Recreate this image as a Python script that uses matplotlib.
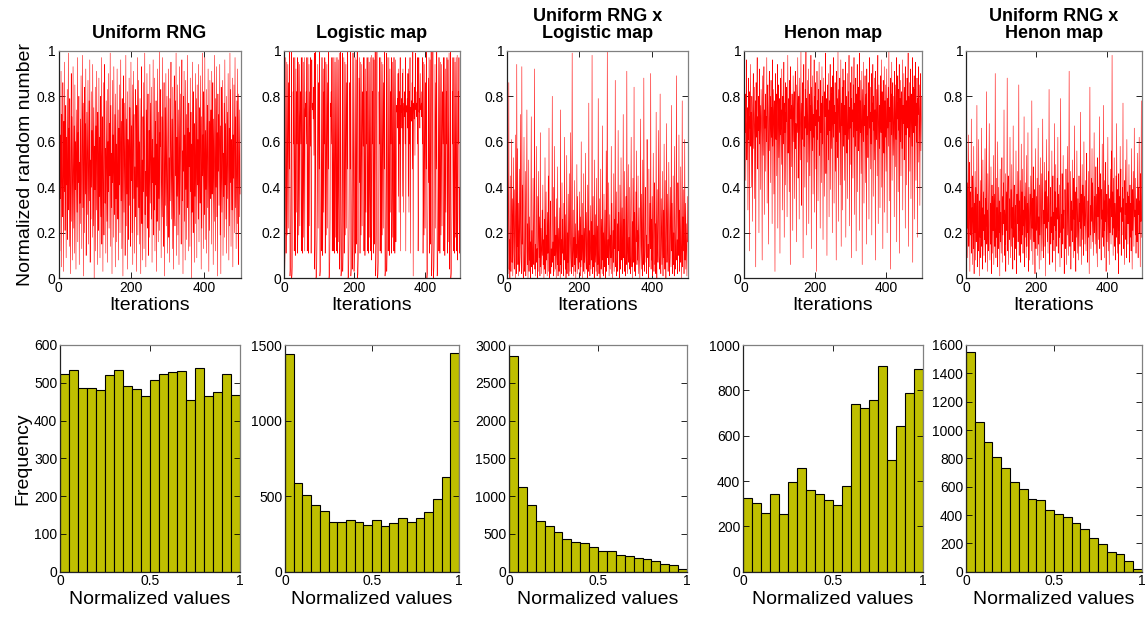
import matplotlib

matplotlib.use("Agg")
import matplotlib.pyplot as plt
import numpy as np

plt.rcParams["font.family"] = ["Liberation Sans", "DejaVu Sans"]

TITLES = ["Uniform RNG", "Logistic map", "Uniform RNG x\nLogistic map",
          "Henon map", "Uniform RNG x\nHenon map"]

# --- first 500 iterations, values in percent ---------
UNIFORM = [
    81, 19, 47, 88, 12, 63, 35, 91, 5, 72, 44, 27, 86, 58, 3, 69, 38, 95, 21, 54,
    76, 9, 62, 41, 83, 17, 50, 99, 30, 66, 14, 79, 46, 2, 57, 90, 25, 71, 36, 8,
    93, 48, 22, 67, 11, 85, 39, 60, 4, 74, 53, 29, 97, 16, 64, 42, 80, 6, 51, 33,
    70, 24, 89, 45, 13, 59, 98, 31, 77, 1, 56, 84, 20, 68, 37, 92, 10, 49, 73, 28,
    61, 87, 15, 43, 78, 34, 96, 7, 52, 26, 82, 40, 65, 18, 94, 55, 23, 75, 0, 58,
    39, 84, 12, 67, 30, 91, 47, 6, 73, 54, 21, 88, 36, 62, 9, 80, 44, 27, 97, 15,
    52, 71, 3, 86, 40, 19, 65, 94, 33, 57, 11, 78, 49, 25, 83, 7, 60, 38, 90, 22,
    68, 45, 99, 14, 76, 31, 55, 2, 87, 42, 63, 18, 93, 50, 28, 72, 5, 81, 35, 59,
    16, 92, 48, 26, 74, 8, 66, 41, 85, 20, 57, 96, 34, 69, 13, 79, 46, 1, 62, 89,
    29, 53, 77, 10, 44, 98, 23, 70, 37, 82, 4, 61, 50, 17, 88, 32, 75, 56, 14, 95,
    43, 67, 20, 85, 6, 58, 91, 35, 72, 11, 49, 27, 83, 64, 3, 76, 40, 97, 19, 54,
    87, 31, 60, 15, 79, 45, 2, 68, 93, 24, 52, 8, 71, 38, 86, 13, 62, 99, 28, 47,
    5, 74, 36, 90, 22, 57, 81, 10, 46, 65, 18, 94, 33, 77, 50, 26, 84, 7, 61, 42,
    96, 19, 53, 30, 88, 12, 69, 41, 78, 3, 59, 25, 92, 48, 16, 73, 35, 100, 21, 64,
    58, 83, 9, 44, 71, 27, 97, 37, 14, 62, 86, 1, 50, 75, 32, 90, 23, 55, 80, 11,
    40, 66, 92, 18, 53, 7, 79, 34, 60, 95, 26, 47, 70, 13, 84, 39, 4, 67, 89, 30,
    23, 78, 45, 99, 10, 62, 36, 85, 19, 51, 74, 6, 93, 28, 57, 81, 42, 15, 69, 96,
    34, 56, 2, 80, 47, 91, 25, 63, 8, 87, 39, 72, 17, 54, 98, 31, 66, 12, 77, 49,
    64, 14, 88, 38, 73, 0, 59, 29, 95, 43, 20, 82, 51, 7, 68, 36, 90, 24, 55, 79,
    9, 85, 41, 61, 26, 94, 16, 75, 48, 33, 89, 57, 4, 71, 22, 99, 45, 63, 13, 82,
    50, 28, 97, 17, 65, 39, 83, 11, 56, 76, 31, 92, 46, 3, 69, 21, 87, 35, 60, 74,
    15, 91, 37, 53, 86, 6, 70, 44, 25, 98, 58, 12, 79, 40, 93, 27, 64, 1, 81, 47,
    72, 32, 59, 94, 19, 67, 2, 84, 45, 29, 62, 87, 10, 55, 36, 77, 18, 96, 41, 68,
    26, 80, 11, 49, 73, 35, 90, 57, 8, 66, 23, 99, 42, 83, 14, 61, 52, 30, 88, 5,
    63, 44, 85, 20, 58, 97, 31, 71, 13, 46, 78, 24, 92, 39, 6, 81, 55, 27, 74, 37,
]

LOGISTIC = [
    47, 99, 3, 12, 42, 97, 11, 39, 95, 19, 62, 94, 22, 69, 86, 48, 100, 1, 4, 15,
    51, 100, 0, 2, 8, 29, 82, 59, 97, 12, 42, 97, 10, 36, 92, 29, 82, 59, 97, 11,
    39, 95, 19, 62, 94, 23, 71, 82, 59, 97, 12, 42, 97, 11, 39, 95, 18, 59, 97, 12,
    74, 77, 71, 82, 59, 97, 12, 42, 97, 11, 38, 94, 23, 71, 82, 58, 97, 11, 40, 96,
    75, 74, 77, 70, 84, 54, 99, 4, 15, 51, 100, 0, 1, 5, 19, 62, 94, 22, 69, 86,
    48, 100, 1, 3, 12, 42, 97, 12, 42, 97, 10, 36, 92, 29, 82, 59, 97, 11, 39, 95,
    19, 62, 94, 22, 69, 86, 48, 100, 0, 2, 7, 26, 77, 71, 82, 59, 97, 12, 42, 97,
    12, 42, 97, 11, 39, 95, 18, 59, 97, 12, 42, 97, 11, 40, 96, 16, 54, 99, 4, 15,
    51, 100, 1, 3, 13, 45, 99, 3, 12, 42, 97, 11, 39, 95, 19, 62, 94, 22, 69, 86,
    48, 100, 0, 1, 6, 22, 69, 86, 48, 100, 1, 4, 16, 54, 99, 4, 16, 54, 99, 3,
    12, 42, 97, 11, 40, 96, 15, 51, 100, 0, 2, 9, 33, 88, 42, 97, 11, 39, 95, 19,
    62, 94, 23, 71, 82, 58, 97, 12, 42, 97, 10, 36, 92, 29, 82, 59, 97, 12, 42, 97,
    11, 39, 95, 18, 59, 97, 12, 43, 98, 8, 29, 82, 59, 97, 11, 40, 96, 15, 51, 100,
    1, 4, 15, 51, 100, 0, 0, 2, 8, 29, 82, 59, 97, 12, 42, 97, 11, 39, 95, 19,
    62, 94, 22, 69, 86, 48, 100, 1, 3, 13, 45, 99, 3, 12, 42, 97, 12, 42, 97, 10,
    36, 92, 29, 82, 59, 97, 11, 39, 95, 18, 59, 97, 12, 42, 97, 11, 40, 96, 16, 54,
    76, 73, 79, 66, 90, 36, 92, 29, 82, 59, 97, 12, 76, 73, 79, 66, 90, 36, 92, 29,
    74, 77, 71, 82, 59, 97, 12, 74, 76, 73, 79, 66, 90, 36, 92, 29, 82, 59, 97, 11,
    75, 74, 78, 69, 86, 48, 100, 1, 74, 77, 70, 84, 54, 99, 75, 74, 77, 71, 82, 59,
    97, 12, 42, 97, 73, 79, 66, 90, 75, 74, 77, 71, 82, 59, 97, 11, 39, 95, 19, 62,
    94, 22, 69, 86, 48, 100, 0, 2, 9, 33, 88, 42, 97, 11, 40, 96, 15, 51, 100, 1,
    4, 15, 51, 100, 0, 1, 5, 19, 62, 94, 22, 69, 86, 48, 100, 1, 3, 12, 42, 97,
    12, 42, 97, 11, 39, 95, 19, 62, 94, 23, 71, 82, 59, 97, 12, 42, 97, 10, 36, 92,
    29, 82, 59, 97, 11, 40, 96, 16, 54, 99, 4, 15, 51, 100, 0, 2, 8, 29, 82, 59,
    97, 12, 42, 97, 11, 39, 95, 18, 59, 97, 12, 43, 98, 8, 29, 82, 59, 97, 11, 40,
]

UNIFORM_X_LOGISTIC = [
    70, 9, 48, 2, 31, 86, 4, 17, 0, 45, 12, 3, 28, 61, 7, 35, 1, 22, 53, 11,
    4, 39, 18, 0, 63, 26, 2, 94, 14, 57, 6, 33, 1, 20, 48, 3, 11, 72, 25, 8,
    2, 93, 15, 41, 5, 0, 29, 62, 9, 3, 18, 47, 1, 12, 36, 74, 6, 24, 0, 13,
    52, 3, 27, 8, 16, 0, 39, 71, 5, 21, 2, 11, 44, 19, 6, 33, 92, 4, 15, 1,
    25, 58, 7, 13, 0, 36, 3, 47, 18, 9, 27, 1, 64, 5, 22, 12, 2, 30, 10, 41,
    6, 17, 0, 26, 4, 53, 14, 2, 38, 8, 19, 1, 29, 11, 45, 3, 66, 9, 0, 21,
    34, 2, 13, 5, 24, 80, 7, 16, 1, 40, 3, 58, 10, 27, 4, 19, 0, 35, 12, 6,
    49, 1, 22, 9, 3, 31, 14, 0, 74, 6, 17, 2, 42, 11, 26, 5, 1, 33, 8, 62,
    15, 4, 28, 0, 10, 54, 2, 20, 7, 37, 13, 1, 46, 23, 3, 16, 64, 9, 2, 25,
    99, 5, 12, 30, 1, 18, 6, 43, 3, 24, 0, 15, 9, 50, 2, 36, 11, 4, 21, 7,
    38, 14, 1, 27, 5, 60, 8, 19, 0, 33, 12, 3, 46, 7, 22, 2, 17, 55, 10, 4,
    29, 9, 0, 41, 15, 3, 77, 6, 21, 1, 11, 32, 4, 25, 8, 98, 2, 14, 36, 5,
    19, 0, 52, 7, 13, 28, 3, 44, 10, 1, 23, 6, 79, 16, 2, 35, 9, 0, 18, 48,
    4, 26, 12, 2, 67, 8, 20, 1, 37, 14, 5, 30, 0, 11, 56, 3, 24, 100, 9, 17,
    6, 42, 1, 15, 28, 4, 19, 9, 58, 2, 33, 12, 0, 21, 7, 46, 3, 26, 13, 87,
    5, 18, 38, 1, 10, 24, 3, 65, 12, 29, 6, 0, 41, 16, 4, 53, 20, 8, 31, 2,
    14, 72, 9, 26, 3, 47, 11, 1, 22, 36, 6, 91, 15, 2, 28, 50, 7, 18, 4, 40,
    10, 2, 33, 62, 13, 5, 25, 0, 44, 19, 7, 84, 3, 29, 12, 1, 38, 16, 56, 6,
    21, 8, 45, 2, 17, 31, 9, 0, 14, 70, 26, 4, 37, 11, 1, 52, 18, 6, 88, 23,
    3, 12, 40, 27, 7, 19, 2, 61, 30, 9, 15, 0, 48, 22, 5, 33, 13, 90, 4, 26,
    8, 36, 1, 18, 55, 11, 3, 29, 42, 6, 24, 2, 73, 14, 0, 39, 17, 7, 31, 65,
    10, 4, 27, 81, 13, 2, 35, 20, 6, 47, 16, 1, 30, 9, 59, 22, 4, 43, 12, 0,
    25, 68, 7, 18, 37, 3, 14, 51, 28, 1, 9, 40, 21, 5, 76, 12, 33, 2, 16, 45,
    6, 20, 1, 58, 26, 11, 4, 34, 89, 8, 17, 2, 42, 23, 10, 63, 3, 30, 13, 7,
    49, 15, 0, 21, 78, 5, 27, 12, 39, 2, 18, 61, 8, 33, 4, 24, 14, 1, 36, 16,
]

HENON = [
    95, 19, 72, 64, 81, 43, 77, 96, 52, 68, 75, 30, 88, 61, 71, 12, 82, 66, 94, 58,
    73, 40, 80, 69, 25, 76, 90, 57, 70, 84, 35, 67, 78, 5, 86, 62, 74, 97, 48, 71,
    65, 80, 20, 92, 59, 76, 68, 39, 83, 72, 63, 8, 89, 70, 54, 79, 93, 28, 74, 66,
    81, 47, 71, 60, 97, 33, 77, 85, 64, 15, 73, 91, 56, 69, 80, 42, 87, 62, 75, 24,
    96, 58, 70, 83, 37, 78, 66, 3, 90, 72, 61, 81, 45, 76, 94, 22, 68, 85, 53, 72,
    79, 11, 88, 63, 74, 50, 92, 67, 30, 80, 71, 59, 95, 18, 77, 64, 86, 41, 73, 69,
    84, 27, 66, 98, 55, 72, 79, 38, 87, 62, 6, 93, 70, 76, 49, 81, 65, 21, 89, 74,
    60, 82, 35, 75, 91, 57, 68, 16, 85, 73, 64, 97, 44, 71, 80, 26, 88, 67, 52, 78,
    100, 32, 69, 77, 61, 86, 9, 74, 94, 58, 71, 40, 83, 66, 100, 19, 79, 63, 87, 51,
    73, 92, 24, 68, 81, 45, 76, 65, 98, 13, 84, 70, 56, 89, 37, 72, 62, 96, 29, 80,
    67, 86, 48, 74, 3, 91, 61, 78, 34, 83, 69, 95, 54, 71, 22, 87, 64, 77, 42, 93,
    59, 80, 17, 75, 88, 66, 36, 82, 71, 99, 46, 68, 79, 10, 85, 63, 74, 52, 90, 27,
    78, 65, 94, 39, 72, 84, 57, 81, 20, 89, 70, 62, 97, 33, 76, 68, 86, 47, 73, 8,
    91, 60, 79, 53, 100, 25, 74, 83, 64, 88, 41, 71, 96, 14, 77, 67, 84, 30, 92, 58,
    70, 87, 43, 76, 63, 95, 18, 80, 72, 55, 90, 35, 68, 82, 61, 98, 23, 75, 66, 86,
    50, 79, 9, 93, 69, 74, 44, 85, 62, 97, 28, 77, 71, 58, 88, 12, 81, 65, 94, 38,
    73, 84, 56, 68, 99, 21, 78, 64, 87, 46, 72, 91, 6, 83, 70, 60, 95, 33, 76, 67,
    89, 42, 75, 81, 15, 92, 63, 71, 53, 86, 78, 26, 97, 66, 73, 48, 84, 59, 90, 19,
    77, 69, 94, 36, 80, 65, 88, 52, 74, 8, 91, 72, 61, 83, 45, 79, 98, 24, 68, 85,
    57, 76, 31, 89, 71, 64, 96, 40, 82, 67, 13, 87, 74, 55, 93, 29, 78, 62, 85, 47,
    72, 92, 20, 79, 66, 84, 58, 100, 34, 75, 69, 88, 4, 81, 63, 95, 43, 73, 86, 54,
    68, 80, 27, 91, 74, 49, 85, 61, 97, 16, 77, 70, 89, 38, 83, 65, 94, 11, 79, 60,
    87, 45, 73, 82, 57, 96, 30, 76, 68, 90, 52, 71, 84, 22, 93, 63, 78, 41, 88, 66,
    75, 99, 14, 80, 62, 86, 47, 74, 92, 35, 69, 81, 58, 97, 7, 84, 71, 64, 89, 26,
    83, 67, 95, 43, 77, 60, 88, 18, 79, 72, 93, 51, 68, 85, 32, 74, 90, 56, 70, 80,
]

UNIFORM_X_HENON = [
    4, 17, 85, 22, 42, 9, 35, 63, 14, 28, 51, 3, 38, 19, 24, 70, 11, 31, 6, 45,
    26, 13, 58, 2, 33, 20, 47, 8, 40, 16, 29, 76, 5, 37, 22, 12, 61, 27, 1, 34,
    18, 43, 9, 25, 66, 14, 31, 4, 52, 21, 38, 10, 28, 17, 57, 7, 35, 23, 82, 15,
    30, 3, 46, 19, 12, 39, 68, 24, 8, 33, 15, 49, 2, 27, 41, 11, 36, 21, 54, 6,
    22, 37, 14, 90, 28, 9, 44, 18, 31, 5, 60, 25, 13, 40, 20, 34, 1, 48, 16, 29,
    11, 27, 53, 7, 36, 19, 42, 24, 74, 10, 30, 15, 46, 3, 26, 38, 21, 88, 12, 33,
    45, 6, 23, 35, 17, 62, 28, 9, 39, 14, 50, 22, 31, 4, 67, 18, 27, 41, 8, 25,
    32, 13, 56, 20, 2, 37, 24, 47, 16, 29, 85, 10, 34, 21, 43, 7, 26, 59, 15, 38,
    19, 48, 11, 30, 23, 71, 5, 36, 18, 42, 27, 9, 54, 14, 33, 20, 64, 3, 28, 40,
    24, 8, 37, 17, 45, 29, 12, 78, 22, 35, 6, 49, 26, 16, 39, 31, 2, 57, 20, 13,
    36, 21, 44, 10, 30, 66, 15, 27, 4, 41, 19, 53, 33, 8, 25, 46, 12, 35, 70, 18,
    9, 30, 24, 51, 14, 38, 1, 43, 22, 61, 28, 16, 36, 11, 47, 25, 83, 19, 6, 32,
    40, 15, 27, 20, 56, 7, 34, 45, 17, 29, 12, 68, 23, 38, 3, 50, 21, 31, 14, 44,
    26, 62, 11, 37, 24, 18, 41, 5, 33, 79, 20, 28, 9, 46, 35, 15, 54, 22, 30, 2,
    17, 39, 28, 13, 48, 32, 6, 25, 58, 19, 42, 10, 36, 91, 23, 14, 31, 47, 4, 27,
    34, 21, 52, 16, 30, 9, 44, 26, 67, 12, 38, 24, 3, 40, 18, 56, 29, 11, 35, 20,
    8, 45, 25, 33, 14, 73, 22, 37, 6, 28, 50, 17, 41, 31, 10, 60, 23, 36, 15, 43,
    29, 12, 39, 55, 21, 7, 34, 18, 47, 26, 2, 38, 84, 19, 32, 13, 44, 25, 57, 16,
    42, 24, 10, 31, 64, 20, 36, 15, 28, 49, 11, 37, 22, 5, 53, 27, 40, 17, 33, 71,
    13, 35, 46, 23, 8, 39, 26, 59, 18, 30, 14, 76, 21, 43, 9, 34, 25, 51, 3, 28,
    37, 16, 29, 62, 12, 41, 24, 6, 35, 20, 48, 31, 15, 56, 27, 98, 19, 38, 10, 44,
    22, 53, 14, 33, 26, 8, 45, 18, 68, 30, 11, 39, 24, 2, 46, 21, 36, 15, 58, 29,
    48, 10, 31, 19, 40, 25, 77, 13, 35, 22, 6, 43, 28, 52, 17, 33, 9, 61, 24, 38,
    15, 36, 24, 50, 7, 29, 41, 18, 33, 12, 57, 26, 4, 39, 21, 47, 31, 14, 66, 27,
    30, 19, 44, 11, 27, 35, 16, 55, 23, 9, 40, 28, 62, 20, 34, 5, 46, 25, 78, 18,
]

# --- histogram counts, 20 bins over [0, 1] (bottom row) ---------------------
HIST_UNIFORM = [522, 533, 485, 485, 482, 520, 533, 491, 484, 465,
                507, 522, 528, 530, 454, 538, 464, 475, 522, 467]
HIST_LOGISTIC = [1440, 585, 505, 441, 404, 331, 331, 340, 326, 307,
                 344, 302, 322, 353, 326, 353, 397, 483, 624, 1445]
HIST_UNIFORM_X_LOGISTIC = [2854, 1120, 882, 670, 609, 529, 432, 388, 375, 322,
                           279, 279, 225, 212, 185, 172, 137, 106, 88, 40]
HIST_HENON = [326, 303, 259, 341, 253, 397, 456, 359, 344, 318,
              293, 376, 741, 724, 759, 906, 494, 644, 787, 896]
HIST_UNIFORM_X_HENON = [1553, 1056, 913, 809, 734, 635, 586, 515, 504, 438,
                        409, 388, 344, 301, 235, 198, 136, 125, 73, 16]

SERIES = [UNIFORM, LOGISTIC, UNIFORM_X_LOGISTIC, HENON, UNIFORM_X_HENON]
HISTS = [HIST_UNIFORM, HIST_LOGISTIC, HIST_UNIFORM_X_LOGISTIC, HIST_HENON,
         HIST_UNIFORM_X_HENON]
HIST_YMAX = [600, 1500, 3000, 1000, 1600]
HIST_YSTEP = [100, 500, 500, 200, 200]

W, H = 1147, 617
TOP_COLS = [(58.5, 240.5), (284, 460), (507, 688), (744, 922), (966, 1142)]
BOT_COLS = [(60, 240), (285, 459), (509, 687), (743, 923), (966, 1142)]
TOP_Y = (50.7, 278.3)
BOT_Y = (345, 571.7)
BAR_COLOR = (0.75, 0.75, 0.0)
LABEL_SIZE = 14


def add_ax(fig, cols, rows):
    x0, x1 = cols
    y0, y1 = rows
    return fig.add_axes([x0 / W, 1 - y1 / H, (x1 - x0) / W, (y1 - y0) / H])


def style(ax):
    ax.tick_params(direction="in", top=True, right=True, length=4, width=0.6,
                   labelsize=10, pad=2)
    for side in ["left", "bottom"]:
        ax.spines[side].set_color("#222222")
    for side in ["top", "right"]:
        ax.spines[side].set_color("#808080")
    for s in ax.spines.values():
        s.set_linewidth(0.9)


def fmt(v):
    return f"{v:g}"


fig = plt.figure(figsize=(W / 100, H / 100), dpi=100)

for i in range(5):
    # top row: time series
    ax = add_ax(fig, TOP_COLS[i], TOP_Y)
    y = np.array(SERIES[i]) / 100.0
    ax.plot(np.arange(len(y)), y, color="red", lw=0.4)
    ax.set_xlim(0, 500)
    ax.set_ylim(0, 1)
    ax.set_xticks([0, 200, 400])
    ax.set_xticklabels(["0", "200", "400"])
    yt = [0, 0.2, 0.4, 0.6, 0.8, 1]
    ax.set_yticks(yt)
    ax.set_yticklabels([fmt(v) for v in yt])
    ax.set_title(TITLES[i], fontsize=13, fontweight="bold", pad=9,
                 linespacing=1.05)
    ax.set_xlabel("Iterations", fontsize=LABEL_SIZE, labelpad=1.5)
    if i == 0:
        ax.set_ylabel("Normalized random number", fontsize=LABEL_SIZE,
                      labelpad=2)
    style(ax)

    # bottom row: histograms
    ax = add_ax(fig, BOT_COLS[i], BOT_Y)
    edges = np.linspace(0, 1, 21)
    ax.bar(edges[:-1], HISTS[i], width=0.05, align="edge", color=BAR_COLOR,
           edgecolor="black", linewidth=0.8)
    ax.set_xlim(0, 1)
    ax.set_ylim(0, HIST_YMAX[i])
    ax.set_xticks([0, 0.5, 1])
    ax.set_xticklabels(["0", "0.5", "1"])
    ax.set_yticks(np.arange(0, HIST_YMAX[i] + 1, HIST_YSTEP[i]))
    ax.set_xlabel("Normalized values", fontsize=LABEL_SIZE, labelpad=1.5)
    if i == 0:
        ax.set_ylabel("Frequency", fontsize=LABEL_SIZE, labelpad=2)
    style(ax)

fig.savefig("out.png", dpi=100)
